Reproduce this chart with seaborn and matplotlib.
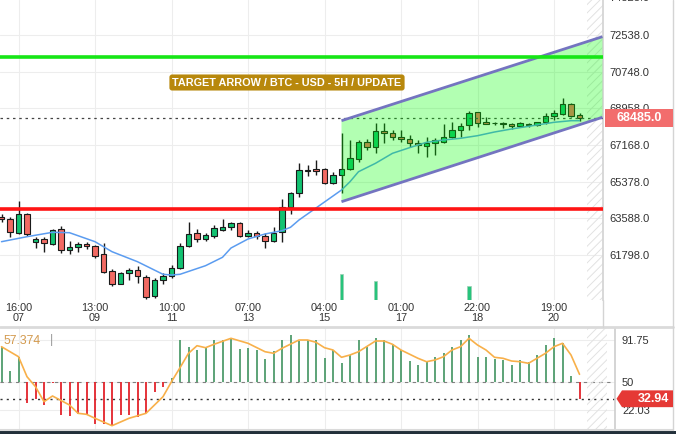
import numpy as np
import pandas as pd
import matplotlib
matplotlib.use("Agg")
import matplotlib.pyplot as plt
import matplotlib.transforms as mtransforms
from matplotlib.patches import Polygon, Rectangle
from matplotlib.lines import Line2D
import seaborn as sns

# ---------------- data ----------------
opens = [63669, 63542, 62888, 63801, 62419, 62566, 62336, 63054, 62058, 62175,
         62336, 62239, 61834, 61033, 60399, 60906, 61067, 60740, 59798, 60565,
         60789, 61150, 62253, 62859, 62566, 62741, 63020, 63152, 63347, 62741,
         62859, 62712, 62483, 62937, 64157, 64811, 65900, 65983, 65983, 65328,
         65690, 65983, 66471, 67330, 67086, 67837, 67740, 67544, 67447, 67281,
         67120, 67252, 67330, 67544, 67901, 68145, 68765, 68276, 68218, 68194,
         68194, 68111, 68145, 68130, 68276, 68584, 68682, 69170, 68633]
closes = [63542, 62907, 63801, 62810, 62566, 62371, 63020, 62044, 62175, 62336,
          62239, 61765, 60984, 60384, 60906, 61067, 60774, 59735, 60579, 60789,
          61150, 62239, 62810, 62566, 62761, 63103, 63152, 63347, 62741, 62859,
          62741, 62483, 62888, 64157, 64840, 65934, 65934, 65885, 65328, 65690,
          65983, 66519, 67330, 67086, 67867, 67740, 67544, 67447, 67252, 67154,
          67281, 67413, 67544, 67901, 68096, 68716, 68257, 68208, 68242, 68218,
          68111, 68228, 68194, 68276, 68584, 68716, 69170, 68599, 68485]
highs = [63801, 63669, 64435, 63850, 62693, 62693, 63069, 63215, 62497, 62449,
         62449, 62288, 62371, 61116, 60970, 61150, 61263, 60823, 60677, 60906,
         61311, 62371, 63396, 63054, 62873, 63264, 63557, 63425, 63410, 63020,
         62971, 62859, 63152, 64518, 64889, 66275, 66192, 66436, 66046, 65865,
         67769, 67413, 67413, 67447, 68257, 68228, 67901, 67901, 67657, 67413,
         67574, 67510, 68179, 68276, 68228, 68843, 68794, 68550, 68306, 68291,
         68228, 68276, 68228, 68306, 68716, 68877, 69448, 69204, 68716]
lows = [63410, 62693, 62825, 62751, 62127, 61961, 62288, 61912, 61848, 61961,
        62078, 61638, 60906, 60286, 60360, 60579, 60447, 59676, 59725, 60369,
        60662, 61092, 62175, 62449, 62483, 62644, 62986, 63020, 62678, 62663,
        62580, 62127, 62434, 62449, 63801, 64645, 65655, 65704, 65265, 65265,
        64811, 65948, 66353, 66925, 66793, 67252, 67413, 67330, 67056, 66763,
        66597, 66680, 67252, 67496, 67574, 67901, 68062, 68194, 68145, 68013,
        67935, 68062, 68033, 68096, 68179, 68389, 68633, 68550, 68340]

ma_idx = [0, 3, 6, 8, 11, 13, 16, 19, 20, 21, 24, 26, 27, 29, 31, 33, 34, 35, 36, 38,
          40, 41, 42, 44, 46, 48, 50, 52, 54, 56, 58, 60, 63, 65, 67, 68]
ma_val = [62449, 62693, 62907, 62888, 62449, 61961, 61472, 60857, 60823, 60857,
          61277, 61687, 62141, 62580, 62825, 62986, 63152, 63508, 63801, 64386,
          64972, 65377, 65865, 66275, 66763, 67037, 67300, 67413, 67496, 67623,
          67803, 67950, 68145, 68276, 68355, 68355]

tick_pos = [2, 11, 20, 29, 38, 47, 56, 65]
tick_labels = ["16:00\n07", "13:00\n09", "10:00\n11", "07:00\n13",
               "04:00\n15", "01:00\n17", "22:00\n18", "19:00\n20"]
price_ticks = [61798, 63588, 65378, 67168, 68958, 70748, 72538]
top_tick = 74328
resistance = 71478
support = 64045
last_price = 68485

channel_x = [40, 70.7]
channel_upper = [68355, 72455]
channel_lower = [64401, 68521]

vol_idx = [40, 44, 55]
vol_val = [26, 19, 14]

osc_hist = [85, 60.7, 75, 28.4, 32.7, 26.7, 48.4, 16.7, 16, 17.4,
            16.7, 8, 7.4, 6.7, 16.7, 16.7, 15, 18.4, 39.4, 45,
            53.4, 91.7, 85, 81.7, 85, 91.7, 91.7, 93.4, 82.7, 84,
            81.7, 72.7, 80.7, 91.7, 96.7, 90.7, 91.7, 91.7, 73.4, 81.7,
            68.4, 76.7, 91.7, 85, 93.4, 91.7, 87.4, 81.7, 70.7, 66.7,
            70, 75, 78.4, 85, 91.7, 96.7, 75, 75, 72.7, 71.7,
            66.7, 71.7, 69.4, 76.7, 86.7, 93.4, 88.4, 56, 32.94]
osc_line_idx = [0, 2, 3, 4, 5, 6, 8, 9, 10, 11, 13, 15, 17, 19, 20, 21, 22, 23, 24, 25,
                27, 29, 31, 32, 33, 35, 36, 37, 38, 39, 40, 41, 42, 44, 45, 46, 47, 49,
                50, 51, 52, 53, 54, 55, 56, 57, 58, 59, 60, 61, 62, 63, 64, 65, 66, 67, 68]
osc_line_val = [85, 75, 55, 45, 30, 35.7, 26.7, 18.4, 17.4, 13.4, 6, 13.4, 18.4, 35, 50,
                64, 78.4, 86, 84, 87.4, 93.4, 88.4, 80, 78.4, 83.4, 91.7, 91.7, 89.4, 84,
                81.7, 74.4, 76.7, 80, 90.7, 90.7, 87.4, 81.7, 73.4, 70, 71.7, 75, 81.7,
                85, 93.4, 86.7, 81.7, 74.4, 73.4, 70.7, 70, 68.4, 73.4, 78.4, 85, 88.4,
                76.7, 57.4]
osc_ticks = [91.75, 50, 22.03]
osc_mid = 50
osc_last = 32.94
osc_text = "57.374"
title_text = "TARGET ARROW / BTC - USD - 5H / UPDATE"

# ---------------- style ----------------
sns.set_theme(style="white")
plt.rcParams['font.family'] = ['Liberation Sans', 'DejaVu Sans']
plt.rcParams['hatch.linewidth'] = 0.7

W, H = 676, 434
fig = plt.figure(figsize=(W / 100, H / 100), dpi=100)
fig.patch.set_facecolor('white')


def fx(px):
    return px / W


def fy(py):
    return 1 - py / H


STEP = 8.5
X0 = 1.5
ax = fig.add_axes([0, fy(300), fx(603), 300 / H])
ax2 = fig.add_axes([0, fy(429), fx(615), 101 / H])

ax.set_xlim(-X0 / STEP, (603 - X0) / STEP)
ax.set_ylim(59603, 74246)
ax2.set_xlim(-X0 / STEP, (615 - X0) / STEP)
ax2.set_ylim(2.7, 103.7)

GRID = '#ededed'
TXT = '#333333'
GREEN = '#12c271'
RED = '#f26a63'

# ---------------- main panel ----------------
df = pd.DataFrame(dict(i=np.arange(len(opens)), o=opens, h=highs, l=lows, c=closes))
up = df.c >= df.o
ax.vlines(df.i, df.l, df.h, color='#1a1a1a', lw=1, zorder=2)
bottom = np.minimum(df.o, df.c)
height = np.maximum((df.c - df.o).abs(), 35)
ax.bar(df.i, height, bottom=bottom, width=0.62,
       color=np.where(up, GREEN, RED), edgecolor='#1a1a1a', linewidth=0.8, zorder=3)

sns.lineplot(x=ma_idx, y=ma_val, ax=ax, color='#5b9cf0', lw=1.1, zorder=4)
ax.axhline(last_price, color='#444444', ls=(0, (2, 3)), lw=0.9, zorder=4)

chan = Polygon([(channel_x[0], channel_upper[0]), (channel_x[1], channel_upper[1]),
                (channel_x[1], channel_lower[1]), (channel_x[0], channel_lower[0])],
               closed=True, facecolor=(0.0, 1.0, 0.0, 0.30), edgecolor='none', zorder=5)
ax.add_patch(chan)
ax.plot(channel_x, channel_upper, color='#7474c0', lw=2, zorder=6, solid_capstyle='butt')
ax.plot(channel_x, channel_lower, color='#7474c0', lw=2, zorder=6, solid_capstyle='butt')

ax.axhline(resistance, color='#16e616', lw=2.6, zorder=7)
ax.axhline(support, color='#ff1414', lw=2.6, zorder=7)

# hatched future zone
hx0, hx1 = (587 - X0) / STEP, (603 - X0) / STEP
ax.add_patch(Rectangle((hx0, 59603), hx1 - hx0, 74246 - 59603, fill=False,
                       hatch='////', edgecolor='#e2e2e2', linewidth=0, zorder=1))

# volume bars
ax3 = ax.twinx()
ax3.set_ylim(0, 300)
ax3.bar(vol_idx, vol_val, width=0.38, color='#27c47c', edgecolor='#9ccfb4', linewidth=0.5)
ax3.set_yticks([])
for s in ax3.spines.values():
    s.set_visible(False)
ax3.set_xlim(ax.get_xlim())

ax.set_xticks(tick_pos, tick_labels)
ax.set_yticks(price_ticks, [f"{v:.1f}" for v in price_ticks])
ax.yaxis.tick_right()
ax.tick_params(axis='y', length=0, pad=4.5, labelsize=8, labelcolor=TXT)
ax.tick_params(axis='x', length=0, pad=2.5, labelsize=7.8, labelcolor=TXT)
for lab in ax.get_xticklabels():
    lab.set_linespacing(0.95)
ax.grid(True, color=GRID, lw=0.8)
ax.set_axisbelow(True)
for k in ['left', 'top', 'bottom']:
    ax.spines[k].set_visible(False)
ax.spines['right'].set_color('#d4d4d4')
ax.set_xlabel('')
ax.set_ylabel('')

blend = mtransforms.blended_transform_factory(ax.transAxes, ax.transData)
ax.text(1.0 + 6 / 603, top_tick, f"{top_tick:.1f}", transform=blend, ha='left', va='center',
        fontsize=8, color=TXT, clip_on=False)

# title badge
fig.text(fx(287), fy(82.5), title_text, ha='center', va='center', color='white',
         fontsize=7.8, fontweight='bold', zorder=10,
         family=['Liberation Sans Narrow', 'Liberation Sans', 'DejaVu Sans'],
         bbox=dict(boxstyle='round,pad=0.28,rounding_size=0.25', fc='#b8880c', ec='none'))

# ---------------- oscillator panel ----------------
ohist = np.array(osc_hist)
ax2.vlines(np.arange(len(ohist)), osc_mid, ohist,
           colors=np.where(ohist >= osc_mid, '#4f9c6c', '#e3232b'), lw=1.3, zorder=2)
ax2.axhline(osc_mid, color='#808080', ls=(0, (3, 4)), lw=0.8, zorder=1)
ax2.axhline(osc_last, color='#333333', ls=(0, (1.5, 3)), lw=1.0, zorder=1)
sns.lineplot(x=osc_line_idx, y=osc_line_val, ax=ax2, color='#f8b04a', lw=1.2, zorder=3)
hx2 = (607 - X0) / STEP
ax2.add_patch(Rectangle((hx0, 2.7), hx2 - hx0, 101, fill=False, hatch='////',
                        edgecolor='#e2e2e2', linewidth=0, zorder=1))
ax2.set_xticks(tick_pos, [''] * len(tick_pos))
ax2.set_yticks(osc_ticks, ["91.75", "50", "22.03"])
ax2.yaxis.tick_right()
ax2.tick_params(axis='y', length=0, pad=5, labelsize=8, labelcolor=TXT)
ax2.tick_params(axis='x', length=0)
ax2.grid(True, color=GRID, lw=0.8)
ax2.set_axisbelow(True)
for k in ['left', 'top', 'bottom']:
    ax2.spines[k].set_visible(False)
ax2.spines['right'].set_color('#cfcfcf')
ax2.set_xlabel('')
ax2.set_ylabel('')

fig.text(fx(4), fy(341), osc_text, ha='left', va='center', fontsize=8.8, color='#d39a4e')
fig.text(fx(50), fy(340), '|', ha='left', va='center', fontsize=9, color='#999999')

# ---------------- value badges ----------------
inv = fig.transFigure.inverted()
yl = inv.transform(ax.transData.transform((0, last_price)))[1]
fig.add_artist(Rectangle((fx(605), yl - 8.7 / H), fx(673) - fx(605), 17.4 / H,
                         transform=fig.transFigure, fc='#f26d6d', ec='none', zorder=5))
fig.text(fx(639), yl, f"{last_price:.1f}", ha='center', va='center', color='white',
         fontsize=9, fontweight='bold', zorder=6)

yo = inv.transform(ax2.transData.transform((0, osc_last)))[1]
hh = 8.4 / H
fig.add_artist(Polygon([(fx(616.5), yo), (fx(622), yo + hh), (fx(673), yo + hh),
                        (fx(673), yo - hh), (fx(622), yo - hh)], closed=True,
                       transform=fig.transFigure, fc='#e53935', ec='none', zorder=5))
fig.text(fx(669), yo, f"{osc_last:.2f}", ha='right', va='center', color='white',
         fontsize=9, fontweight='bold', zorder=6)

# ---------------- frame lines ----------------
fig.add_artist(Line2D([0, fx(673)], [fy(327)] * 2, transform=fig.transFigure,
                      color='#dadada', lw=2))
fig.add_artist(Line2D([fx(603)] * 2, [fy(300), fy(327)], transform=fig.transFigure,
                      color='#d4d4d4', lw=1))
fig.add_artist(Line2D([0, fx(673)], [fy(429.5)] * 2, transform=fig.transFigure,
                      color='#dadada', lw=1.5))
fig.add_artist(Line2D([fx(673)] * 2, [fy(430), 1], transform=fig.transFigure,
                      color='#d4d4d4', lw=1))
fig.add_artist(Rectangle((0, 0), 1, 3.5 / H, transform=fig.transFigure,
                         fc='#22303a', ec='none'))

fig.savefig('out.png', dpi=100)
